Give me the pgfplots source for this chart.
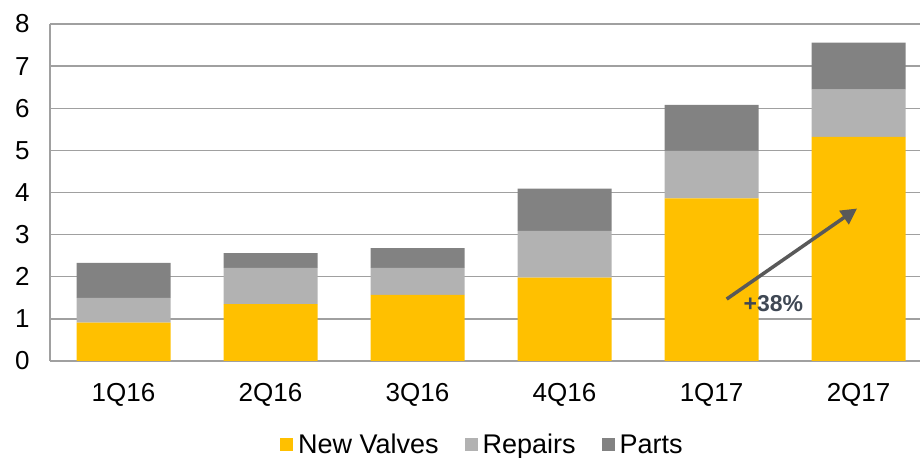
\documentclass[border=0pt]{standalone}
\usepackage{pgfplots}
\pgfplotsset{compat=1.18}
\usepackage{fontspec}
\setmainfont{Liberation Sans}
\usetikzlibrary{arrows.meta}
\definecolor{cYel}{HTML}{FFC000}
\definecolor{cLight}{HTML}{B2B2B2}
\definecolor{cDark}{HTML}{828282}
\definecolor{cGrid}{HTML}{A0A0A0}
\definecolor{cArrow}{HTML}{595959}
\definecolor{cTxt}{HTML}{3F4854}
\pgfplotstableread{
x nv rep parts
0 0.91 0.59 0.83
1 1.35 0.86 0.35
2 1.57 0.64 0.47
3 1.98 1.11 1.00
4 3.86 1.13 1.09
5 5.32 1.12 1.12
}\datatable
\begin{document}
\begin{tikzpicture}[x=1bp,y=1bp]
\useasboundingbox (0,0) rectangle (920,458);
\begin{axis}[
  at={(50bp,97bp)}, anchor=south west,
  scale only axis, width=870bp, height=337bp,
  xmin=-0.5, xmax=5.418, ymin=0, ymax=8,
  ybar stacked, bar width=94bp,
  axis lines=left, axis line style={-, cGrid, line width=1.3bp},
  ymajorgrids, grid style={cGrid, line width=1.3bp},
  major tick length=0pt,
  xtick=data, xticklabels={1Q16,2Q16,3Q16,4Q16,1Q17,2Q17},
  ytick={0,1,...,8},
  /pgf/number format/assume math mode=true,
  tick label style={font=\fontsize{26bp}{30bp}\selectfont, black},
  xticklabel style={yshift=-19bp},
  yticklabel style={xshift=-17bp},
  clip=false,
  legend columns=3,
  legend style={at={(0.497,-0.249)}, anchor=center, draw=none, fill=none,
    font=\fontsize{27bp}{31bp}\selectfont, column sep=3bp,
    /tikz/every even column/.append style={column sep=24bp}},
  legend image code/.code={\fill[#1] (0bp,-6.5bp) rectangle (13bp,6.5bp);},
]
\addplot[fill=cYel, draw=none] table[x=x,y=nv]{\datatable};
\addlegendentry{New Valves}
\addplot[fill=cLight, draw=none] table[x=x,y=rep]{\datatable};
\addlegendentry{Repairs}
\addplot[fill=cDark, draw=none] table[x=x,y=parts]{\datatable};
\addlegendentry{Parts}
\coordinate (arrA) at (axis cs:4.103,1.47);
\coordinate (arrB) at (axis cs:4.99,3.62);
\coordinate (lab) at (axis cs:4.42,1.37);
\end{axis}
\draw[cArrow, line width=3.5bp, -{Triangle[length=16bp,width=16bp]}] (arrA) -- (arrB);
\node[cTxt, font=\fontsize{23bp}{27bp}\selectfont\bfseries] at (lab) {+38\%};
\end{tikzpicture}
\end{document}
